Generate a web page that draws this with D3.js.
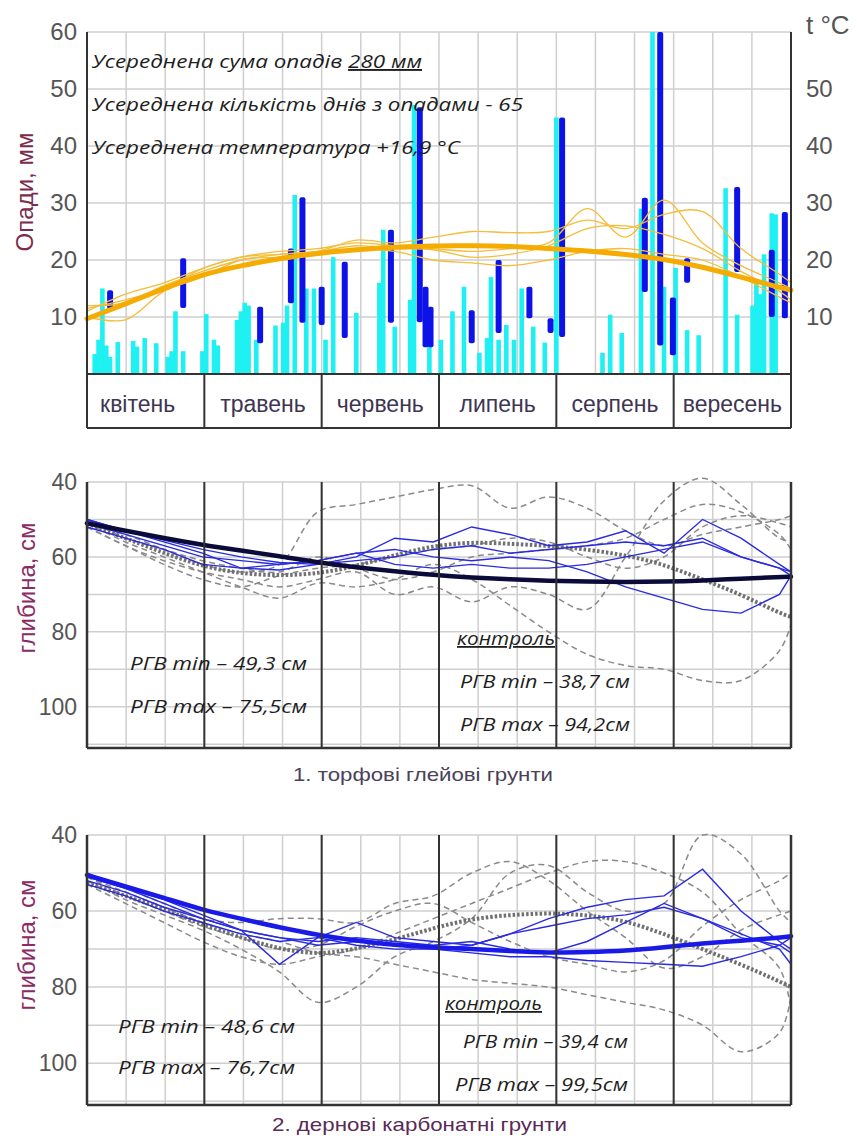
<!DOCTYPE html>
<html>
<head>
<meta charset="utf-8">
<script src="https://cdn.jsdelivr.net/npm/d3@7"></script>
<style>
  body { margin: 0; background: #fff; }
  svg { display: block; }
</style>
</head>
<body>
<div id="chart"></div>
<script>
// ---- data ----
const months = ["квітень", "травень", "червень", "липень", "серпень", "вересень"];
const rainTicks = [10, 20, 30, 40, 50, 60];
const tempTicks = [10, 20, 30, 40, 50];
const depthTicks = [40, 60, 80, 100];

// daily precipitation, light bars (day from 1 April, mm)
const rainDays = [2, 3, 4, 5, 6, 8, 12, 13, 15, 18, 21, 22, 23, 25,
  30, 31, 33, 34, 39, 40, 41, 42, 44, 49, 51, 52, 54, 57, 59,
  62, 64, 70, 76, 77, 80, 84, 85, 89,
  92, 95, 98, 102, 104, 105, 107, 109, 111, 113, 116, 119, 122,
  134, 136, 139, 144, 147, 150, 153, 156, 159,
  166, 169, 173, 174, 175, 176, 178, 179];
const rainMm = [3.5, 6, 15, 5, 3, 5.6, 5.8, 4.8, 6.3, 5.4, 3, 4, 11, 4,
  4, 10.5, 6, 5, 9.5, 11, 12.5, 12, 6, 8.5, 9, 12, 31.4, 15, 15,
  6, 20.5, 10.7, 16, 25.3, 8.3, 13, 47.2, 6,
  6, 11, 15.3, 3.7, 6.3, 17, 6, 8.6, 6, 15, 8.3, 5.5, 45,
  3.7, 10.4, 7.2, 29, 60, 15.3, 18.6, 7.7, 6.8,
  32.6, 10.4, 12, 16, 14, 21, 28.2, 28];

// heavy-rain years, dark bars: day, lower and upper value (mm)
const heavyDays = [6, 25, 45, 53, 56, 61, 67, 79, 86.5, 88, 89.3, 100, 107, 115, 120.5, 123.5, 145, 149, 152.3, 156, 169, 178, 181.4];
const heavyLow  = [11.5, 11.6, 5.4, 12.4, 9, 8.6, 6.3, 9, 9.1, 4.7, 4.7, 5.4, 7.2, 9.8, 7.2, 6.5, 14.4, 5, 3.3, 16, 17.9, 10, 9.8];
const heavyHigh = [14.7, 20.3, 11.8, 22, 31, 15.3, 19.7, 25.3, 46.8, 15.3, 11.8, 11.2, 20, 15.3, 9.8, 45, 30.9, 60, 13.4, 20.3, 32.8, 21.8, 28.4];

// common step of the line series (day from 1 April)
const stepDays = [0, 10, 20, 30, 40, 50, 60, 70, 80, 90, 100, 110, 120, 130, 140, 150, 160, 170, 180, 183];

// air temperature, °C
const tempMean = [9.7, 12.3, 15, 17.5, 19, 20.3, 21.2, 21.8, 22.3, 22.5, 22.5, 22.4, 22, 21.6, 21, 20.2, 18.8, 17, 15.2, 14.7];
const tempYears = [
  [12, 12.5, 15.5, 18, 20, 21, 21.5, 23.5, 23, 24, 25, 24.8, 25, 27, 25.5, 28, 28.5, 22, 17.5, 16],
  [11, 14, 16, 18.5, 20.5, 21, 21.5, 22.5, 22, 21.8, 20.5, 21, 22.5, 25.5, 26, 24.5, 22, 18, 14.5, 13],
  [10, 9.5, 14.5, 17, 20, 20.5, 21, 22, 21.5, 20, 19.5, 19, 20, 21.5, 22, 21, 20, 17, 13.5, 12.5],
  [11.5, 13, 15, 18.5, 20.5, 21.5, 22, 23, 22.5, 22, 21.5, 22, 23, 29, 24, 30.5, 23, 19, 16, 15]
];

// groundwater depth, cm — 1. peat gley soils
const peatMean = [51, 53, 55, 56.8, 58.3, 59.8, 61.5, 62.8, 63.8, 64.8, 65.5, 66, 66.4, 66.6, 66.7, 66.6, 66.3, 65.8, 65.4, 65.3];
const peatControlMean = [51, 55, 59, 62.5, 64.5, 65, 64.5, 62.5, 59.5, 57, 56, 56.5, 57, 58, 59.5, 62, 66, 70, 75, 76];
const peatYears = [
  [50, 53, 56, 59, 63, 63.5, 62, 60, 55, 56, 52, 54, 57, 56, 53, 59, 50, 55, 62, 64],
  [51, 54, 57, 60, 61, 62, 61, 59, 58, 60, 61, 60, 61, 64, 68, 71, 74, 75, 70, 65],
  [50, 53, 55.5, 58, 60, 61.5, 62, 61, 60, 58, 57, 59, 58, 57, 56, 57, 55, 60, 63, 64],
  [52, 55, 58, 62, 63, 62, 61, 59, 62, 63, 62, 63, 63, 62, 60, 58, 56, 60, 63, 65]
];
const peatControl = [
  [51, 54, 58, 62, 64, 62, 48, 46, 44, 42, 41, 47, 44, 47, 53, 57, 54, 52, 50, 49],
  [52, 57, 61, 64, 66, 68, 66, 64, 70, 68, 72, 68, 70, 74, 60, 45, 39, 46, 55, 56],
  [51, 56, 60, 64, 68, 71, 67, 68, 66, 62, 66, 73, 80, 86, 89, 90, 93, 93, 85, 78],
  [50, 55, 58, 61, 63, 64, 60, 63, 66, 64, 60, 59, 58, 57, 55, 50, 46, 48, 54, 58],
  [52, 57, 62, 66, 68, 65, 63, 62, 60, 58, 57, 55, 56, 60, 63, 60, 52, 49, 51, 52]
];

// 2. soddy carbonate soils
const sodMean = [50.5, 53.5, 56.5, 59.7, 62, 64.3, 66.3, 67.8, 69, 69.5, 70, 70.5, 71, 70.8, 70.5, 69.5, 68.5, 67.8, 67, 66.6];
const sodControlMean = [52.6, 56, 59.5, 63.5, 67, 70, 71.5, 70, 67.5, 64.5, 62, 61, 60.5, 61, 62.5, 66, 70, 74, 78.5, 80];
const sodYears = [
  [51, 54, 57, 61, 65, 74, 67, 63, 67, 68, 69, 66, 62, 59, 57, 56, 49, 60, 68, 70],
  [52, 55, 59, 62, 65, 67, 69, 68, 69, 70, 69, 66, 64, 62, 61, 59, 62, 66, 70, 74],
  [53, 56, 60, 63, 66, 68, 67, 69, 70, 70, 71, 72, 72, 73, 73.5, 74, 74.5, 72, 69, 67],
  [51, 54, 58, 62, 65, 67, 68, 67, 68, 69, 68, 70, 71, 68, 63, 58, 62, 67, 69, 71]
];
const sodControl = [
  [51, 55, 59, 63, 66, 68, 71, 72, 74, 76, 78, 79, 80, 82, 84, 86, 90, 97, 92, 82],
  [52, 57, 61, 65, 70, 76, 84, 80, 72, 68, 62, 50, 48, 55, 60, 58, 40, 45, 60, 63],
  [50, 54, 58, 62, 63, 62, 62, 63, 58, 56, 50, 47, 52, 60, 67, 75, 72, 65, 61, 60],
  [53, 58, 63, 68, 72, 74, 72, 70, 66, 62, 58, 54, 50, 47, 47, 50, 55, 66, 75, 86],
  [51, 56, 60, 64, 67, 70, 69, 64, 60, 58, 63, 68, 72, 74, 76, 73, 64, 57, 52, 50]
];

// ---- drawing ----
const W = 857, H = 1139;
const plotL = 87, plotR = 791;
const gridColor = "#cfcfcf", axisColor = "#333";

const svg = d3.select("#chart").append("svg")
  .attr("width", W).attr("height", H)
  .style("font-family", "'Liberation Sans', Arial, sans-serif");

const x = d3.scaleLinear().domain([0, 183]).range([plotL, plotR]);
const xGrid = d3.scaleLinear().domain([0, 18]).range([plotL, plotR]); // three ten-day periods per month

function hLine(g, y, color, w) {
  g.append("line").attr("x1", plotL).attr("x2", plotR).attr("y1", y).attr("y2", y)
    .attr("stroke", color).attr("stroke-width", w);
}

// italic note stretched to the width it has in the picture
function note(g, px, py, txt, len, size, underline) {
  const t = g.append("text").attr("x", px).attr("y", py)
    .attr("font-family", "'Open Sans', sans-serif").attr("font-style", "italic")
    .attr("font-size", size).attr("fill", "#1e1e1e")
    .attr("textLength", len).attr("lengthAdjust", "spacingAndGlyphs")
    .text(txt);
  if (underline) t.attr("text-decoration", "underline");
  return t;
}

// ---------- top: precipitation & temperature ----------
const rainG = svg.append("g");
const yRain = d3.scaleLinear().domain([0, 60]).range([374, 32]);
const bandBottom = 428;

d3.range(0, 19).forEach(i => {
  rainG.append("line").attr("x1", xGrid(i)).attr("x2", xGrid(i))
    .attr("y1", yRain(60)).attr("y2", yRain(0))
    .attr("stroke", gridColor).attr("stroke-width", 1.5);
});
rainTicks.forEach(t => hLine(rainG, yRain(t), gridColor, 1.5));

// light bars
rainG.selectAll(".rain").data(rainDays).join("rect")
  .attr("x", d => x(d) - 2.3).attr("width", 4.6)
  .attr("y", (d, i) => yRain(rainMm[i]))
  .attr("height", (d, i) => yRain(0) - yRain(rainMm[i]))
  .attr("fill", "#1ff0f2");

// dark bars
rainG.selectAll(".heavy").data(heavyDays).join("rect")
  .attr("x", d => x(d) - 3).attr("width", 6)
  .attr("y", (d, i) => yRain(heavyHigh[i]))
  .attr("height", (d, i) => yRain(heavyLow[i]) - yRain(heavyHigh[i]))
  .attr("rx", 2)
  .attr("fill", "#0d12e6");

// temperature lines (same 0–60 scale as the right axis)
const tLine = d3.line().x((d, i) => x(stepDays[i])).y(d => yRain(d)).curve(d3.curveCatmullRom);
tempYears.forEach(s => {
  rainG.append("path").attr("d", tLine(s)).attr("fill", "none")
    .attr("stroke", "#f4bd3a").attr("stroke-width", 1.3);
});
rainG.append("path").attr("d", tLine.curve(d3.curveBasis)(tempMean)).attr("fill", "none")
  .attr("stroke", "#f5ab00").attr("stroke-width", 5).attr("stroke-linecap", "round");

// frame and month band
rainG.append("line").attr("x1", plotL).attr("x2", plotL).attr("y1", yRain(60)).attr("y2", bandBottom)
  .attr("stroke", axisColor).attr("stroke-width", 2);
rainG.append("line").attr("x1", plotR).attr("x2", plotR).attr("y1", yRain(60)).attr("y2", bandBottom)
  .attr("stroke", axisColor).attr("stroke-width", 2);
hLine(rainG, yRain(0), axisColor, 2);
hLine(rainG, bandBottom, axisColor, 2);
months.forEach((m, i) => {
  rainG.append("line").attr("x1", xGrid(i * 3)).attr("x2", xGrid(i * 3))
    .attr("y1", yRain(0)).attr("y2", bandBottom)
    .attr("stroke", axisColor).attr("stroke-width", 2);
  rainG.append("text").attr("x", xGrid(i * 3 + 1.5) - (i === 0 ? 8 : 0)).attr("y", 412)
    .attr("text-anchor", "middle").attr("font-size", 23).attr("fill", "#3e3552")
    .text(m);
});

// axes labels
rainTicks.forEach(t => {
  rainG.append("text").attr("x", 77).attr("y", yRain(t) + 8).attr("text-anchor", "end")
    .attr("font-size", 24).attr("fill", "#555").text(t);
});
tempTicks.forEach(t => {
  rainG.append("text").attr("x", 806).attr("y", yRain(t) + 8)
    .attr("font-size", 24).attr("fill", "#555").text(t);
});
rainG.append("text").attr("x", 806).attr("y", 34).attr("font-size", 26).attr("fill", "#555").text("t °C");
rainG.append("text").attr("transform", `translate(33,${(yRain(0) + yRain(60)) / 2 - 11}) rotate(-90)`)
  .attr("text-anchor", "middle").attr("font-size", 24).attr("fill", "#7a2c4c").text("Опади, мм");

// annotations
const n1 = note(rainG, 92, 68, "", 330, 19);
n1.append("tspan").text("Усереднена сума опадів ");
n1.append("tspan").attr("text-decoration", "underline").text("280 мм");
note(rainG, 92, 111, "Усереднена кількість днів з опадами - 65", 431, 19);
note(rainG, 92, 154, "Усереднена температура +16,9 °C", 368, 19);

// ---------- depth panels ----------
function depthPanel(cfg) {
  const g = svg.append("g");
  const y = d3.scaleLinear().domain([40, 111]).range([cfg.top, cfg.bottom]);

  d3.range(0, 19).forEach(i => {
    g.append("line").attr("x1", xGrid(i)).attr("x2", xGrid(i))
      .attr("y1", y(40)).attr("y2", y(111))
      .attr("stroke", gridColor).attr("stroke-width", 1.5);
  });
  d3.range(40, 111, 10).forEach(t => hLine(g, y(t), gridColor, 1.5));

  const line = d3.line().x((d, i) => x(stepDays[i])).y(d => y(d));

  cfg.control.forEach(s => {
    g.append("path").attr("d", line.curve(d3.curveCatmullRom)(s)).attr("fill", "none")
      .attr("stroke", "#8a8a8a").attr("stroke-width", 1.5).attr("stroke-dasharray", "6,4");
  });
  g.append("path").attr("d", line.curve(d3.curveBasis)(cfg.controlMean)).attr("fill", "none")
    .attr("stroke", "#707070").attr("stroke-width", 4).attr("stroke-dasharray", "2.5,2");
  cfg.years.forEach(s => {
    g.append("path").attr("d", line.curve(d3.curveLinear)(s)).attr("fill", "none")
      .attr("stroke", "#2a2ae0").attr("stroke-width", 1.4);
  });
  g.append("path").attr("d", line.curve(d3.curveBasis)(cfg.mean)).attr("fill", "none")
    .attr("stroke", cfg.meanColor).attr("stroke-width", 4.5).attr("stroke-linecap", "round");

  // frame
  [0, 3, 6, 9, 12, 15, 18].forEach(i => {
    g.append("line").attr("x1", xGrid(i)).attr("x2", xGrid(i))
      .attr("y1", y(40)).attr("y2", y(111))
      .attr("stroke", axisColor).attr("stroke-width", i === 0 || i === 18 ? 2.5 : 2);
  });
  hLine(g, y(111), axisColor, 2.5);

  depthTicks.forEach(t => {
    g.append("text").attr("x", 77).attr("y", y(t) + 8).attr("text-anchor", "end")
      .attr("font-size", 23).attr("fill", "#555").text(t);
  });
  g.append("text").attr("transform", `translate(35,${cfg.titleY}) rotate(-90)`)
    .attr("text-anchor", "middle").attr("font-size", 24).attr("fill", "#8a2a66").text("глибина, см");

  cfg.notes.forEach(nt => note(g, nt[0], nt[1], nt[2], nt[3], 18, nt[4]));

  g.append("text").attr("x", cfg.captionX).attr("y", cfg.captionY)
    .attr("font-size", 19).attr("fill", cfg.captionColor)
    .attr("textLength", cfg.captionLen).attr("lengthAdjust", "spacingAndGlyphs")
    .text(cfg.caption);
}

depthPanel({
  top: 482, bottom: 748, titleY: 588,
  mean: peatMean, controlMean: peatControlMean, years: peatYears, control: peatControl,
  meanColor: "#0b0b3a",
  notes: [
    [130, 670, "РГВ min – 49,3 см", 177],
    [130, 713, "РГВ max – 75,5см", 177],
    [457, 645, "контроль", 98, true],
    [460, 688, "РГВ min –  38,7 см", 170],
    [460, 731, "РГВ max –  94,2см", 170]
  ],
  caption: "1. торфові глейові грунти", captionX: 293, captionY: 781, captionLen: 260, captionColor: "#4a4258"
});

depthPanel({
  top: 835, bottom: 1105, titleY: 945,
  mean: sodMean, controlMean: sodControlMean, years: sodYears, control: sodControl,
  meanColor: "#1a1ae8",
  notes: [
    [118, 1033, "РГВ min – 48,6 см", 177],
    [118, 1074, "РГВ max – 76,7см", 177],
    [445, 1010, "контроль", 97, true],
    [463, 1048, "РГВ min – 39,4 см", 165],
    [455, 1091, "РГВ max – 99,5см", 173]
  ],
  caption: "2. дернові карбонатні грунти", captionX: 272, captionY: 1131, captionLen: 295, captionColor: "#5a2a56"
});
</script>
</body>
</html>
